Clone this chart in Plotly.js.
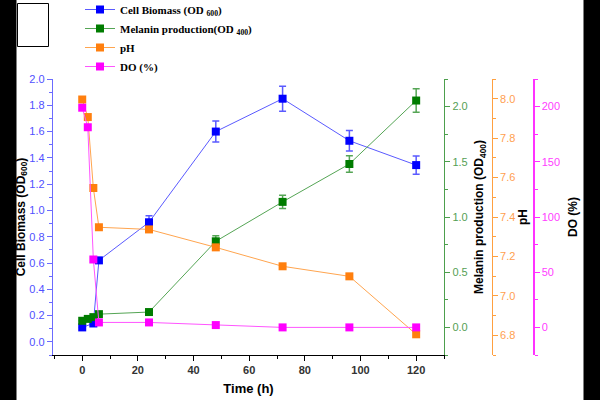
<!DOCTYPE html>
<html>
<head>
<meta charset="utf-8">
<script src="https://cdn.plot.ly/plotly-3.0.1.min.js"></script>
<style>
html,body{margin:0;padding:0;background:#fff;}
#chart{width:600px;height:400px;}
</style>
</head>
<body>
<div id="chart"></div>
<script>
// ---- data ----
var timeBiomass = [0, 4, 6, 24, 48, 72, 96, 120];
var biomass     = [0.11, 0.14, 0.62, 0.91, 1.60, 1.85, 1.53, 1.345];
var biomassErr  = [0, 0, 0.02, 0.05, 0.08, 0.095, 0.078, 0.07];

var timeAll     = [0, 2, 4, 6, 24, 48, 72, 96, 120];
var melanin     = [0.06, 0.077, 0.093, 0.12, 0.139, 0.78, 1.137, 1.48, 2.055];
var melaninErr  = [0, 0, 0, 0, 0, 0.05, 0.06, 0.075, 0.107];
var pH          = [7.996, 7.907, 7.547, 7.348, 7.337, 7.246, 7.15, 7.099, 6.805];
var DO          = [199, 181.3, 61.5, 4.5, 4.5, 2.1, 0, 0, 0];

var legendNames = ['Cell Biomass (OD <sub>600</sub>)', 'Melanin production(OD <sub>400</sub>)', 'pH', 'DO (%)'];

// ---- geometry helpers (pixels -> paper) ----
var W = 600, H = 400, mL = 53, mR = 17, mT = 79, mB = 45;
var pw = W - mL - mR, ph = H - mT - mB;
function px(x){ return (x - mL) / pw; }
function py(y){ return (H - mB - y) / ph; }

var sans = 'Liberation Sans, Arial, sans-serif';
var serif = 'Liberation Serif, Times New Roman, serif';

var traces = [
  {x: timeBiomass, y: biomass, name: legendNames[0], type: 'scatter', mode: 'lines+markers',
   yaxis: 'y', line: {color: '#5a5aff', width: 1}, marker: {symbol: 'square', size: 8, color: '#0000ff'},
   error_y: {type: 'data', array: biomassErr, color: '#5a5aff', thickness: 1.5, width: 3.5}},
  {x: timeAll, y: melanin, name: legendNames[1], type: 'scatter', mode: 'lines+markers',
   yaxis: 'y2', line: {color: '#55a555', width: 1}, marker: {symbol: 'square', size: 8, color: '#007c00'},
   error_y: {type: 'data', array: melaninErr, color: '#55a555', thickness: 1.5, width: 3.5}},
  {x: timeAll, y: pH, name: legendNames[2], type: 'scatter', mode: 'lines+markers',
   yaxis: 'y3', line: {color: '#ffa54f', width: 1}, marker: {symbol: 'square', size: 8, color: '#ff7f0e'}},
  {x: timeAll, y: DO, name: legendNames[3], type: 'scatter', mode: 'lines+markers',
   yaxis: 'y4', line: {color: '#ff55ff', width: 1}, marker: {symbol: 'square', size: 8, color: '#ff00ff'}}
];

function axisBase(col, labCol){
  return {
    showgrid: false, zeroline: false, showline: true, linecolor: col, linewidth: 1.2,
    ticks: 'outside', ticklen: 5, tickwidth: 1, tickcolor: col,
    tickfont: {family: sans, size: 11, color: labCol},
    automargin: false
  };
}

var xa = axisBase('#000', '#333');
Object.assign(xa, {range: [-10.5, 130], dtick: 20, tick0: 0, domain: [0, px(444)],
  tickfont: {family: sans, size: 11, color: '#333', weight: 'bold'},
  minor: {ticks: 'outside', ticklen: 3, dtick: 10, tick0: 0, tickcolor: '#000'},
  title: {text: 'Time (h)', font: {family: sans, size: 13, color: '#000', weight: 'bold'}, standoff: 8}});

var ya = axisBase('#6b6bff', '#5050ff');
Object.assign(ya, {range: [-0.1, 2.0], dtick: 0.2, tick0: 0, tickformat: '.1f',
  minor: {ticks: 'outside', ticklen: 3, dtick: 0.1, tick0: 0, tickcolor: '#6b6bff'},
  title: {text: 'Cell Biomass (OD<sub>600</sub>)', font: {family: sans, size: 12, color: '#000', weight: 'bold'}, standoff: 0}});

var y2 = axisBase('#4d9f4d', '#55a055');
Object.assign(y2, {range: [-0.25, 2.25], dtick: 0.5, tick0: 0, tickformat: '.1f',
  overlaying: 'y', side: 'right', anchor: 'x',
  minor: {ticks: 'outside', ticklen: 3, dtick: 0.25, tick0: 0, tickcolor: '#4d9f4d'},
  title: {text: 'Melanin production (OD<sub>400</sub>)', font: {family: sans, size: 12, color: '#000', weight: 'bold'}, standoff: 8}});

var y3 = axisBase('#ffa040', '#ffa050');
Object.assign(y3, {range: [6.7, 8.1], dtick: 0.2, tick0: 6.8, tickformat: '.1f',
  overlaying: 'y', side: 'right', anchor: 'free', position: px(491.7),
  minor: {ticks: 'outside', ticklen: 3, dtick: 0.1, tick0: 6.8, tickcolor: '#ffa040'},
  title: {text: 'pH', font: {family: sans, size: 12, color: '#000', weight: 'bold'}, standoff: 4}});

var y4 = axisBase('#ff33ff', '#ff40ff');
Object.assign(y4, {range: [-25, 225], dtick: 50, tick0: 0,
  overlaying: 'y', side: 'right', anchor: 'free', position: px(533.3),
  minor: {ticks: 'outside', ticklen: 3, dtick: 25, tick0: 0, tickcolor: '#ff33ff'},
  title: {text: 'DO (%)', font: {family: sans, size: 12, color: '#000', weight: 'bold'}, standoff: 9}});

var layout = {
  width: W, height: H,
  margin: {l: mL, r: mR, t: mT, b: mB, pad: 0, autoexpand: false},
  paper_bgcolor: '#fff', plot_bgcolor: 'rgba(0,0,0,0)',
  showlegend: true,
  legend: {x: px(80), y: py(-5), xanchor: 'left', yanchor: 'top', bgcolor: 'rgba(0,0,0,0)',
           font: {family: serif, size: 11, color: '#000', weight: 'bold'}, tracegroupgap: 0, itemwidth: 30},
  xaxis: xa, yaxis: ya, yaxis2: y2, yaxis3: y3, yaxis4: y4,
  shapes: [
    {type: 'rect', xref: 'paper', yref: 'paper', x0: px(0), x1: px(16.5), y0: py(400), y1: py(0),
     fillcolor: '#000', line: {width: 0}, layer: 'above'},
    {type: 'rect', xref: 'paper', yref: 'paper', x0: px(583.5), x1: px(600), y0: py(400), y1: py(0),
     fillcolor: '#000', line: {width: 0}, layer: 'above'},
    {type: 'rect', xref: 'paper', yref: 'paper', x0: px(17.5), x1: px(48.5), y0: py(46.5), y1: py(3.5),
     fillcolor: '#fff', line: {color: '#000', width: 1}, layer: 'above'}
  ]
};

Plotly.newPlot('chart', traces, layout, {displayModeBar: false, staticPlot: true});
</script>
</body>
</html>
